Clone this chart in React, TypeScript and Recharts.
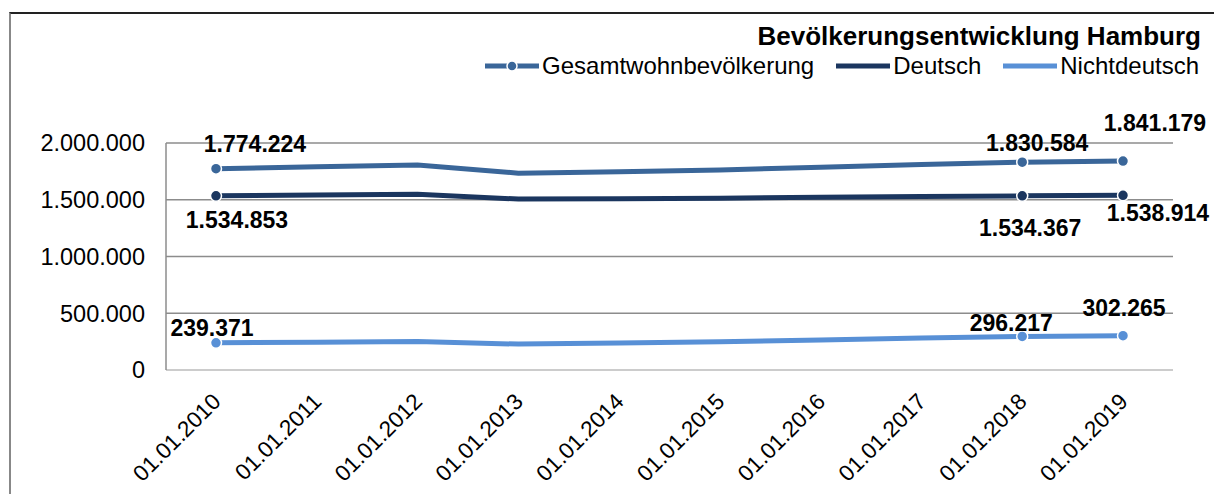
import {
  CartesianGrid,
  LabelList,
  Line,
  LineChart,
  XAxis,
  YAxis,
} from "recharts";

const dates = [
  "01.01.2010",
  "01.01.2011",
  "01.01.2012",
  "01.01.2013",
  "01.01.2014",
  "01.01.2015",
  "01.01.2016",
  "01.01.2017",
  "01.01.2018",
  "01.01.2019",
];

const gesamt = [
  1774224, 1790000, 1806000, 1734000, 1746000, 1762000, 1787000, 1810000,
  1830584, 1841179,
];
const deutsch = [
  1534853, 1541000, 1548000, 1506000, 1508000, 1514000, 1522000, 1528000,
  1534367, 1538914,
];
const nichtdeutsch = [
  239371, 245000, 251000, 228000, 238000, 249000, 265000, 282000, 296217,
  302265,
];

const yTicks = [0, 500000, 1000000, 1500000, 2000000];

const data = dates.map((date, i) => ({
  date,
  gesamt: gesamt[i],
  deutsch: deutsch[i],
  nichtdeutsch: nichtdeutsch[i],
}));

// which points get a marker and a value label
const shown = [0, 8, 9];

// label offsets relative to the point, per series and index
const labelOffsets: Record<string, Record<number, [number, number]>> = {
  gesamt: { 0: [39, -25], 8: [15, -19], 9: [32, -38] },
  deutsch: { 0: [21, 24], 8: [8, 32], 9: [35, 18] },
  nichtdeutsch: { 0: [-4, -15], 8: [-11, -13], 9: [1, -28] },
};

const colors = {
  gesamt: "#3A6699",
  deutsch: "#1B365F",
  nichtdeutsch: "#5890D6",
};

const font = "'Liberation Sans', Arial, sans-serif";

function fmt(v: number) {
  return String(Math.round(v)).replace(/\B(?=(\d{3})+(?!\d))/g, ".");
}

function makeDot(color: string) {
  return (props: any) => {
    const { cx, cy, index } = props;
    if (!shown.includes(index)) return <g key={index} />;
    return (
      <circle
        key={index}
        cx={cx}
        cy={cy}
        r={5.5}
        fill={color}
        stroke="#fff"
        strokeWidth={1.5}
      />
    );
  };
}

function makeLabel(key: string) {
  return (props: any) => {
    const { x, y, value, index } = props;
    const off = labelOffsets[key][index];
    if (!off) return null;
    return (
      <text
        x={x + off[0]}
        y={y + off[1]}
        textAnchor="middle"
        dominantBaseline="central"
        fontFamily={font}
        fontWeight="bold"
        fontSize={23}
        fill="#000"
      >
        {fmt(value)}
      </text>
    );
  };
}

function DateTick(props: any) {
  const { x, y, payload } = props;
  const ax = x + 6;
  const ay = y + 31;
  return (
    <text
      x={ax}
      y={ay}
      transform={`rotate(-45, ${ax}, ${ay})`}
      textAnchor="end"
      fontFamily={font}
      fontSize={22.5}
      fill="#000"
    >
      {payload.value}
    </text>
  );
}

function LegendIcon({ color, dot }: { color: string; dot?: boolean }) {
  return (
    <svg width={54} height={12} style={{ display: "block" }}>
      <line x1={0} y1={6} x2={54} y2={6} stroke={color} strokeWidth={5} />
      {dot && (
        <circle cx={27} cy={6} r={5} fill={color} stroke="#fff" strokeWidth={1.5} />
      )}
    </svg>
  );
}

function Header() {
  const items = [
    { name: "Gesamtwohnbevölkerung", color: colors.gesamt, dot: true },
    { name: "Deutsch", color: colors.deutsch },
    { name: "Nichtdeutsch", color: colors.nichtdeutsch },
  ];
  return (
    <div
      style={{
        position: "absolute",
        top: 21,
        right: 15,
        fontFamily: font,
        color: "#000",
        zIndex: 2,
      }}
    >
      <div
        style={{
          textAlign: "right",
          fontWeight: "bold",
          fontSize: 26,
          lineHeight: "30px",
          marginRight: -2,
        }}
      >
        Bevölkerungsentwicklung Hamburg
      </div>
      <div
        style={{
          display: "flex",
          justifyContent: "flex-end",
          alignItems: "center",
          marginTop: 2,
          fontSize: 24,
          lineHeight: "26px",
        }}
      >
        {items.map((it, i) => (
          <div
            key={it.name}
            style={{
              display: "flex",
              alignItems: "center",
              marginLeft: i === 0 ? 0 : 22,
            }}
          >
            <LegendIcon color={it.color} dot={it.dot} />
            <span style={{ marginLeft: 3 }}>{it.name}</span>
          </div>
        ))}
      </div>
    </div>
  );
}

export default function App() {
  return (
    <div
      style={{
        position: "absolute",
        left: 0,
        top: 0,
        width: 1214,
        height: 494,
        background: "#fff",
        overflow: "hidden",
      }}
    >
      <div
        style={{
          position: "absolute",
          left: 9,
          top: 12,
          width: 1210,
          height: 490,
          borderTop: "2px solid #222",
          borderLeft: "2px solid #888",
        }}
      />
      <Header />
      <LineChart
        width={1214}
        height={494}
        data={data}
        margin={{ top: 143, right: 41, bottom: 0, left: 16 }}
      >
        <CartesianGrid vertical={false} stroke="#8c8c8c" strokeWidth={1.5} />
        <XAxis
          dataKey="date"
          height={124}
          padding={{ left: 50, right: 50 }}
          axisLine={{ stroke: "#d9d9d9", strokeWidth: 1.5 }}
          tickLine={false}
          tickSize={0}
          tick={<DateTick />}
          interval={0}
        />
        <YAxis
          width={150}
          domain={[0, 2000000]}
          ticks={yTicks}
          tickFormatter={fmt}
          axisLine={{ stroke: "#8c8c8c", strokeWidth: 1.5 }}
          tickLine={false}
          tickSize={0}
          tickMargin={21}
          tick={{ fontFamily: font, fontSize: 23.5, fill: "#000" }}
        />
        <Line
          dataKey="gesamt"
          stroke={colors.gesamt}
          strokeWidth={5}
          dot={makeDot(colors.gesamt)}
          activeDot={false}
          isAnimationActive={false}
        >
          <LabelList dataKey="gesamt" content={makeLabel("gesamt")} />
        </Line>
        <Line
          dataKey="deutsch"
          stroke={colors.deutsch}
          strokeWidth={5}
          dot={makeDot(colors.deutsch)}
          activeDot={false}
          isAnimationActive={false}
        >
          <LabelList dataKey="deutsch" content={makeLabel("deutsch")} />
        </Line>
        <Line
          dataKey="nichtdeutsch"
          stroke={colors.nichtdeutsch}
          strokeWidth={5}
          dot={makeDot(colors.nichtdeutsch)}
          activeDot={false}
          isAnimationActive={false}
        >
          <LabelList dataKey="nichtdeutsch" content={makeLabel("nichtdeutsch")} />
        </Line>
      </LineChart>
    </div>
  );
}
